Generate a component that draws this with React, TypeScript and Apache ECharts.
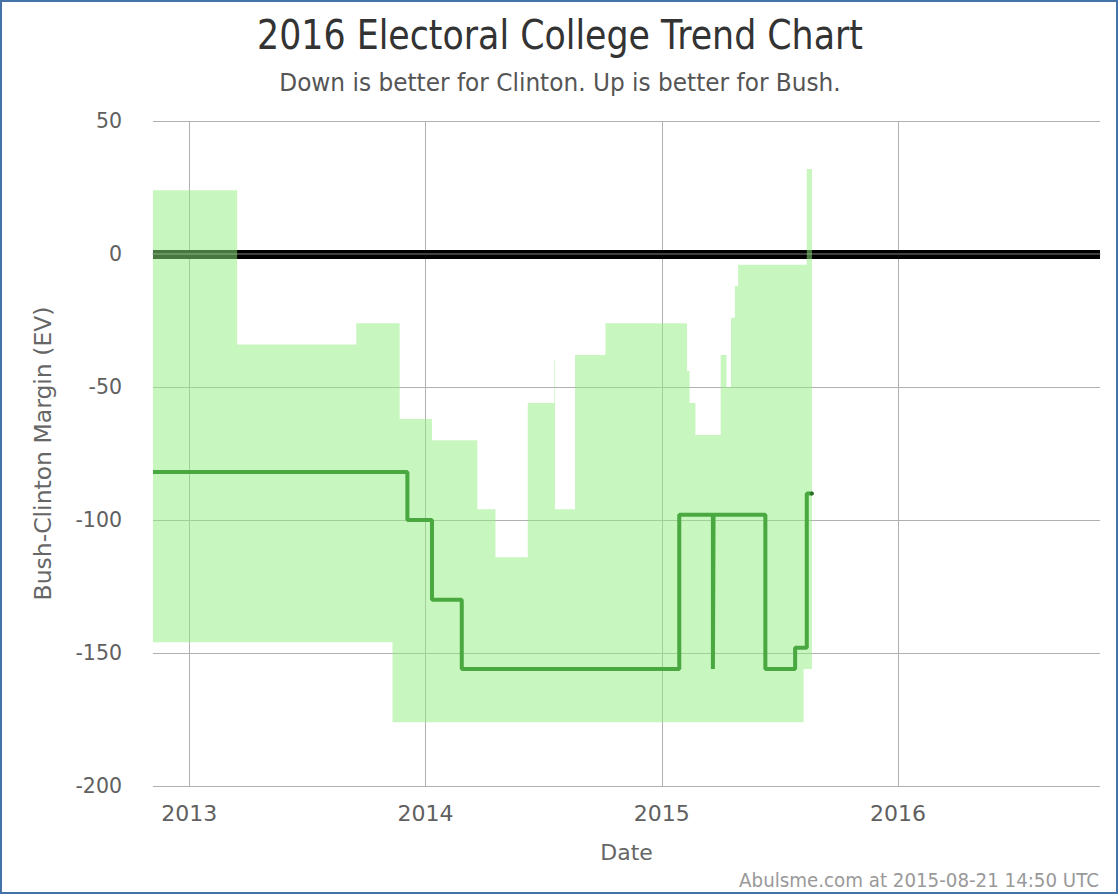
import React, { useEffect, useRef } from "react";
import * as echarts from "echarts";

// Green trend line (step function: value holds until the next date)
const lineDates = [
  "2012-11-06", "2013-12-04", "2014-01-11", "2014-02-26", "2015-01-28",
  "2015-03-21", "2015-03-22", "2015-06-10", "2015-07-26", "2015-08-13", "2015-08-21",
];
const lineValues = [-82, -100, -130, -156, -98, -156, -98, -156, -148, -90, -90];

// Shaded band: segment i runs from bandDates[i] to bandDates[i+1]
const bandDates = [
  "2012-11-06", "2013-03-16", "2013-09-16", "2013-11-11", "2013-11-22",
  "2014-01-11", "2014-03-22", "2014-04-19", "2014-06-08", "2014-07-19",
  "2014-07-20", "2014-08-20", "2014-10-06", "2015-02-09", "2015-02-13",
  "2015-02-22", "2015-04-02", "2015-04-11", "2015-04-18", "2015-04-24",
  "2015-04-29", "2015-08-08", "2015-08-13", "2015-08-21",
];
const bandUpper = [
  24, -34, -26, -26, -62, -70, -96, -114, -56, -40, -96, -38, -26, -44, -56,
  -68, -38, -50, -24, -12, -4, -4, 32,
];
const bandLower = [
  -146, -146, -146, -176, -176, -176, -176, -176, -176, -176, -176, -176, -176,
  -176, -176, -176, -176, -176, -176, -176, -176, -156, -156,
];

const yearTicks = ["2013-01-01", "2014-01-01", "2015-01-01", "2016-01-01"];
const xMin = "2012-11-06";
const xMax = "2016-11-08";
const yTicks = { min: -200, max: 50, interval: 50 };

const FONT = "DejaVu Sans";
const ts = (d: string) => new Date(d + "T00:00:00Z").getTime();

export default function App() {
  const ref = useRef<HTMLDivElement>(null);
  useEffect(() => {
    document.body.style.margin = "0";
    const chart = echarts.init(ref.current!, null, { renderer: "svg" });
    const yearTs = yearTicks.map(ts);
    const option: any = {
      animation: false,
      backgroundColor: "#ffffff",
      textStyle: { fontFamily: FONT },
      grid: { left: 151, right: 16, top: 119, bottom: 106, containLabel: false },
      xAxis: {
        type: "value",
        min: ts(xMin),
        max: ts(xMax),
        name: "Date",
        nameLocation: "middle",
        nameGap: 55,
        nameTextStyle: { fontSize: 22, color: "#666666", fontFamily: FONT },
        axisLine: { show: true, lineStyle: { color: "#c0d0e0", width: 2 } },
        axisTick: { show: false, customValues: yearTs },
        splitLine: { show: true, lineStyle: { color: "#b0b0b0", width: 1 } },
        axisLabel: {
          customValues: yearTs,
          formatter: (v: number) => String(new Date(v).getUTCFullYear()),
          fontSize: 22,
          color: "#606060",
          margin: 16,
          fontFamily: FONT,
        },
      },
      yAxis: {
        type: "value",
        min: yTicks.min,
        max: yTicks.max,
        interval: yTicks.interval,
        name: "Bush-Clinton Margin (EV)",
        nameLocation: "middle",
        nameGap: 98,
        nameTextStyle: { fontSize: 23.5, color: "#666666", fontFamily: FONT },
        axisLine: { show: false },
        axisTick: { show: false },
        splitLine: { show: true, lineStyle: { color: "#b0b0b0", width: 1 } },
        axisLabel: { fontSize: 20.5, color: "#606060", margin: 31, fontFamily: FONT },
      },
      graphic: [
        {
          type: "text",
          x: 558,
          y: 33,
          scaleX: 0.87,
          style: {
            text: "2016 Electoral College Trend Chart",
            fontSize: 40,
            fontFamily: FONT,
            fill: "#333333",
            textAlign: "center",
            textVerticalAlign: "middle",
          },
        },
        {
          type: "text",
          x: 558,
          y: 81,
          scaleX: 0.93,
          style: {
            text: "Down is better for Clinton. Up is better for Bush.",
            fontSize: 25,
            fontFamily: FONT,
            fill: "#555555",
            textAlign: "center",
            textVerticalAlign: "middle",
          },
        },
        {
          type: "text",
          x: 1097,
          y: 878,
          scaleX: 0.96,
          style: {
            text: "Abulsme.com at 2015-08-21 14:50 UTC",
            fontSize: 19,
            fontFamily: FONT,
            fill: "#999999",
            textAlign: "right",
            textVerticalAlign: "middle",
          },
        },
      ],
      series: [
        {
          type: "line",
          data: [],
          z: 1,
          silent: true,
          markLine: {
            z: 1,
            silent: true,
            symbol: "none",
            label: { show: false },
            data: [
              { yAxis: 0, lineStyle: { color: "#000000", width: 9, type: "solid" } },
              { yAxis: 0, lineStyle: { color: "#555555", width: 1.5, type: "solid" } },
            ],
          },
        },
        {
          type: "custom",
          z: 2,
          silent: true,
          data: [[ts(bandDates[0]), bandLower[0]]],
          renderItem: (_params: any, api: any) => {
            const top: number[][] = [];
            const bottom: number[][] = [];
            for (let i = 0; i < bandUpper.length; i++) {
              const a = ts(bandDates[i]);
              const b = ts(bandDates[i + 1]);
              top.push(api.coord([a, bandUpper[i]]));
              top.push(api.coord([b, bandUpper[i]]));
              bottom.push(api.coord([a, bandLower[i]]));
              bottom.push(api.coord([b, bandLower[i]]));
            }
            const points = top.concat(bottom.reverse());
            return {
              type: "polygon",
              shape: { points },
              style: { fill: "rgba(144,237,125,0.5)", stroke: "none" },
            };
          },
        },
        {
          type: "line",
          z: 3,
          step: "end",
          silent: true,
          showSymbol: true,
          data: lineDates.map((d, i) => ({
            value: [ts(d), lineValues[i]],
            symbol: i === lineDates.length - 1 ? "circle" : "none",
            symbolSize: 4,
            itemStyle: { color: "#2b6e25" },
          })),
          lineStyle: { color: "#49a83f", width: 4 },
        },
      ],
    };
    chart.setOption(option);
    return () => chart.dispose();
  }, []);
  return (
    <div
      style={{
        width: 1118,
        height: 894,
        boxSizing: "border-box",
        border: "2px solid #4572a7",
      }}
    >
      <div ref={ref} style={{ width: 1114, height: 890 }} />
    </div>
  );
}
